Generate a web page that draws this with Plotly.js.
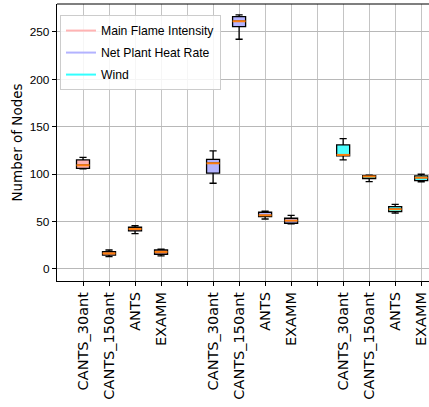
<!DOCTYPE html>
<html>
<head>
<meta charset="utf-8">
<script src="https://cdn.plot.ly/plotly-3.0.1.min.js"></script>
<style>html,body{margin:0;padding:0;overflow:hidden;background:#fff}</style>
</head>
<body>
<div id="chart" style="width:429px;height:407px"></div>
<script>
// ---- data ----
var methods = ["CANTS_30ant", "CANTS_150ant", "ANTS", "EXAMM"];
var seriesNames = ["Main Flame Intensity", "Net Plant Heat Rate", "Wind"];
var groupPositions = [[1, 2, 3, 4], [6, 7, 8, 9], [11, 12, 13, 14]];
var tickPositions = [1, 2, 3, 4, 5, 6, 7, 8, 9, 10, 11, 12, 13, 14];
var tickLabels = ["CANTS_30ant", "CANTS_150ant", "ANTS", "EXAMM", "",
                  "CANTS_30ant", "CANTS_150ant", "ANTS", "EXAMM", "",
                  "CANTS_30ant", "CANTS_150ant", "ANTS", "EXAMM"];
var yTicks = [0, 50, 100, 150, 200, 250];

var mfiLow    = [105.5, 13.0, 37.2, 13.7];
var mfiQ1     = [106.2, 14.5, 40.1, 15.5];
var mfiMedian = [109.4, 16.4, 42.2, 18.0];
var mfiQ3     = [115.0, 18.2, 44.0, 20.0];
var mfiHigh   = [117.8, 20.0, 45.7, 21.0];

var nphrLow    = [90.4, 242.3, 52.7, 47.5];
var nphrQ1     = [101.0, 255.6, 55.2, 48.2];
var nphrMedian = [111.5, 261.3, 56.6, 51.0];
var nphrQ3     = [115.7, 266.1, 59.8, 53.5];
var nphrHigh   = [124.5, 268.0, 60.9, 56.6];

var windLow    = [115.0, 92.1, 58.8, 92.0];
var windQ1     = [119.2, 95.3, 60.4, 93.1];
var windMedian = [120.3, 97.6, 63.0, 96.3];
var windQ3     = [130.8, 98.4, 65.7, 98.1];
var windHigh   = [137.4, 99.0, 68.2, 99.9];

var fillColors = ["#ffb3b3", "#b3b3ff", "#4dffff"];
var legendColors = ["#ffb3b3", "#b3b3ff", "#33ffff"];
var medianColor = "#ff7f0e";

var stats = [
  [mfiLow, mfiQ1, mfiMedian, mfiQ3, mfiHigh],
  [nphrLow, nphrQ1, nphrMedian, nphrQ3, nphrHigh],
  [windLow, windQ1, windMedian, windQ3, windHigh]
];

var boxWidth = 0.5;
var traces = [];
stats.forEach(function (s, g) {
  traces.push({
    type: "box",
    x: groupPositions[g],
    lowerfence: s[0], q1: s[1], median: s[2], q3: s[3], upperfence: s[4],
    width: boxWidth,
    whiskerwidth: 0.55,
    fillcolor: fillColors[g],
    line: {color: "#000000", width: 1.3},
    showlegend: false,
    hoverinfo: "skip"
  });
});
// orange median lines
stats.forEach(function (s, g) {
  var mx = [], my = [];
  groupPositions[g].forEach(function (p, i) {
    mx.push(p - boxWidth / 2, p + boxWidth / 2, null);
    my.push(s[2][i], s[2][i], null);
  });
  traces.push({
    type: "scatter", mode: "lines", x: mx, y: my,
    line: {color: medianColor, width: 2},
    showlegend: false, hoverinfo: "skip"
  });
});
// legend entries
seriesNames.forEach(function (n, g) {
  traces.push({
    type: "scatter", mode: "lines", x: [null], y: [null], name: n,
    line: {color: legendColors[g], width: 2},
    legendgroup: "g" + g
  });
});

var narrowFont = "Liberation Sans, Arial, sans-serif";

var layout = {
  width: 429, height: 407,
  margin: {l: 57, r: 0, t: 4, b: 126},
  paper_bgcolor: "#ffffff", plot_bgcolor: "#ffffff",
  showlegend: true,
  legend: {
    x: 0.008, y: 0.96, xanchor: "left", yanchor: "top",
    bgcolor: "rgba(255,255,255,0.85)", bordercolor: "#cccccc", borderwidth: 1,
    font: {family: narrowFont, size: 12.2, color: "#000"},
    tracegroupgap: 3
  },
  xaxis: {
    range: [0, 14.3],
    tickmode: "array", tickvals: tickPositions, ticktext: tickLabels,
    tickangle: -90,
    ticks: "outside", ticklen: 4, tickcolor: "#000", tickwidth: 1,
    ticklabeloverflow: "allow",
    showgrid: true, gridcolor: "#c4c4c4", gridwidth: 1,
    showline: true, linecolor: "#000", linewidth: 1.2,
    zeroline: false,
    tickfont: {family: "DejaVu Sans, sans-serif", size: 14.5, color: "#000"}
  },
  yaxis: {
    range: [-12.7, 279.5],
    tickmode: "array", tickvals: yTicks,
    ticks: "outside", ticklen: 4, tickcolor: "#000", tickwidth: 1,
    showgrid: true, gridcolor: "#b8b8b8", gridwidth: 1,
    showline: true, linecolor: "#000", linewidth: 1.2,
    zeroline: false,
    tickfont: {family: narrowFont, size: 11.8, color: "#000"},
    title: {text: "Number of Nodes", standoff: 4,
            font: {family: "DejaVu Sans, sans-serif", size: 13.5, color: "#000"}},
    automargin: false
  },
  shapes: [{type: "line", xref: "paper", yref: "paper", x0: 0, x1: 1, y0: 1, y1: 1,
            line: {color: "#000", width: 1.2}}]
};

Plotly.newPlot("chart", traces, layout, {displayModeBar: false, staticPlot: true});
</script>
</body>
</html>
